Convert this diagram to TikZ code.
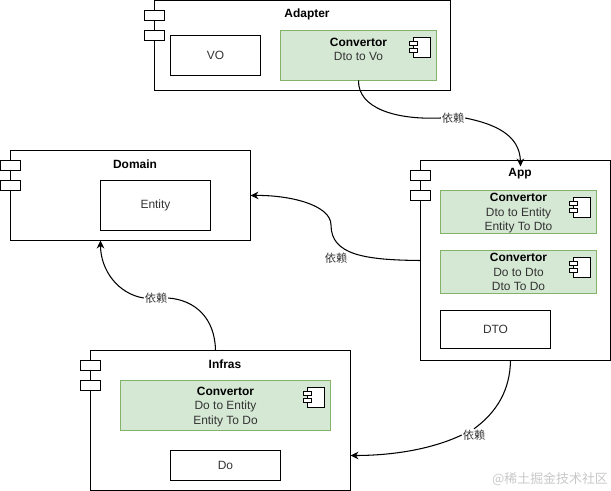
\documentclass[tikz,border=0pt]{standalone}
\usepackage{fontspec}
\setmainfont{Liberation Sans}
\newfontfamily\cjkfont{Noto Sans CJK SC}
\usetikzlibrary{arrows.meta,positioning}
\definecolor{compink}{HTML}{000000}
\definecolor{texmid}{HTML}{333333}
\definecolor{convfill}{HTML}{D5E8D4}
\definecolor{convedge}{HTML}{82B366}
\definecolor{markgray}{HTML}{C8C8C8}

%% two small tabs on the left edge of a component
\newcommand{\comptabs}[3]{%
  \node[tabbox] (#1Tab1) at (#2,#3) {};
  \node[tabbox] (#1Tab2) at (#2,#3+20) {};
}
%% the small icon in the corner of a convertor
\newcommand{\convicon}[3]{%
  \node[iconbody] (#1Icon) at (#2+4,#3) {};
  \node[icontab] (#1IconA) at (#2,#3+4) {};
  \node[icontab] (#1IconB) at (#2,#3+11) {};
}

\begin{document}
\begin{tikzpicture}[
  x=0.025cm, y=-0.025cm,
  font=\fontsize{8.5}{10.3}\selectfont,
  >={Stealth[length=2mm,width=1.9mm]},
  size/.style 2 args={minimum width=#1*0.025cm, minimum height=#2*0.025cm},
  comp/.style={draw=compink, line width=0.75pt, fill=white, anchor=north west,
               inner sep=0pt, outer sep=0pt},
  plain/.style={comp, text=texmid},
  conv/.style={draw=convedge, line width=0.75pt, fill=convfill, anchor=north west,
               inner sep=0pt, outer sep=0pt},
  tabbox/.style={comp, size={20}{10}},
  iconbody/.style={comp, size={17}{20}},
  icontab/.style={comp, size={8}{4}},
  title/.style={font=\fontsize{8.5}{10.3}\selectfont\bfseries, inner sep=0pt},
  conver/.style={align=center, anchor=north, inner sep=0pt, text=texmid},
  dep/.style={font=\cjkfont\fontsize{8}{10}\selectfont, inner sep=0.5pt, text=texmid},
  link/.style={->, line width=0.75pt, compink},
  linkpart/.style={line width=0.75pt, compink}]

\useasboundingbox (0,0) rectangle (611,491);

%% ---- Adapter ----
\node[comp, size={296}{90}] (Adapter) at (154.5,0.5) {};
\comptabs{Adapter}{144.5}{10.5}
\node[title] (AdapterTitle) at (307,14) {Adapter};
\node[plain, size={90}{40}] (AdapterVo) at (170.5,35.5) {VO};
\node[conv, size={156}{50}] (AdapterConv) at (280.5,30.5) {};
\node[conver] (AdapterText) at ([yshift=-0.18cm]AdapterConv.north)
  {\textbf{\textcolor{black}{Convertor}}\\Dto to Vo};
\convicon{Adapter}{409.5}{37.5}

%% ---- Domain ----
\node[comp, size={240}{90}] (Domain) at (10.5,150.5) {};
\comptabs{Domain}{0.5}{160.5}
\node[title] (DomainTitle) at (135,164) {Domain};
\node[plain, size={110}{50}] (DomainEntity) at (100.5,180.5) {Entity};

%% ---- App ----
\node[comp, size={190}{200}] (App) at (420.5,160.5) {};
\comptabs{App}{410.5}{170.5}
\node[title] (AppTitle) at (520,174) {App};
\node[conv, size={156}{43}] (AppConvA) at (440.5,190.5) {};
\node[conver] (AppTextA) at ([yshift=-0.07cm]AppConvA.north)
  {\textbf{\textcolor{black}{Convertor}}\\Dto to Entity\\Entity To Dto};
\convicon{AppA}{569.5}{197.5}
\node[conv, size={156}{43}] (AppConvB) at (440.5,250.5) {};
\node[conver] (AppTextB) at ([yshift=-0.07cm]AppConvB.north)
  {\textbf{\textcolor{black}{Convertor}}\\Do to Dto\\Dto To Do};
\convicon{AppB}{569.5}{257.5}
\node[plain, size={110}{38}] (AppDto) at (440.5,310.5) {DTO};

%% ---- Infras ----
\node[comp, size={260}{140}] (Infras) at (90.5,350.5) {};
\comptabs{Infras}{80.5}{360.5}
\node[title] (InfrasTitle) at (225,364) {Infras};
\node[conv, size={210}{50}] (InfrasConv) at (120.5,380.5) {};
\node[conver] (InfrasText) at ([yshift=-0.15cm]InfrasConv.north)
  {\textbf{\textcolor{black}{Convertor}}\\Do to Entity\\Entity To Do};
\convicon{Infras}{303.5}{387.5}
\node[plain, size={110}{30}] (InfrasDo) at (170.5,450.5) {Do};

%% ---- the dependencies ----
\node[dep] (DepA) at (453,118) {依赖};
\node[dep] (DepB) at (336,258) {依赖};
\node[dep] (DepC) at (156,298) {依赖};
\node[dep] (DepD) at (474,435) {依赖};

\draw[linkpart] (AdapterConv.south) .. controls (358,108) and (395,120) .. (DepA.west);
%% the tip goes a little past the top edge of App
\draw[link] (DepA.east) .. controls (495,124) and (520,135) .. ([xshift=0.125cm,yshift=-0.15cm]App.north);

%% this one runs past its label, above it
\draw[link] (App.west) .. controls (365,260) and (331,255) .. (331,225)
  .. controls (331,205) and (290,195) .. (Domain.east);

\draw[linkpart] ([xshift=-0.125cm]Infras.north) .. controls (215,318) and (195,300) .. (DepC.east);
\draw[link] (DepC.west) .. controls (118,294) and (100.5,270) .. (DomainEntity.south west |- Domain.south);

\draw[linkpart] ([xshift=-0.125cm]App.south) .. controls (510,390) and (497,412) .. (DepD.north);
\draw[link] (DepD.west) .. controls (430,450) and (390,455.5) .. ([yshift=-0.875cm]Infras.east);

%% ---- watermark ----
\node[font=\cjkfont\fontsize{9.2}{11}\selectfont, text=markgray, inner sep=0pt] (Mark) at (550,479)
  {@稀土掘金技术社区};

\end{tikzpicture}
\end{document}
